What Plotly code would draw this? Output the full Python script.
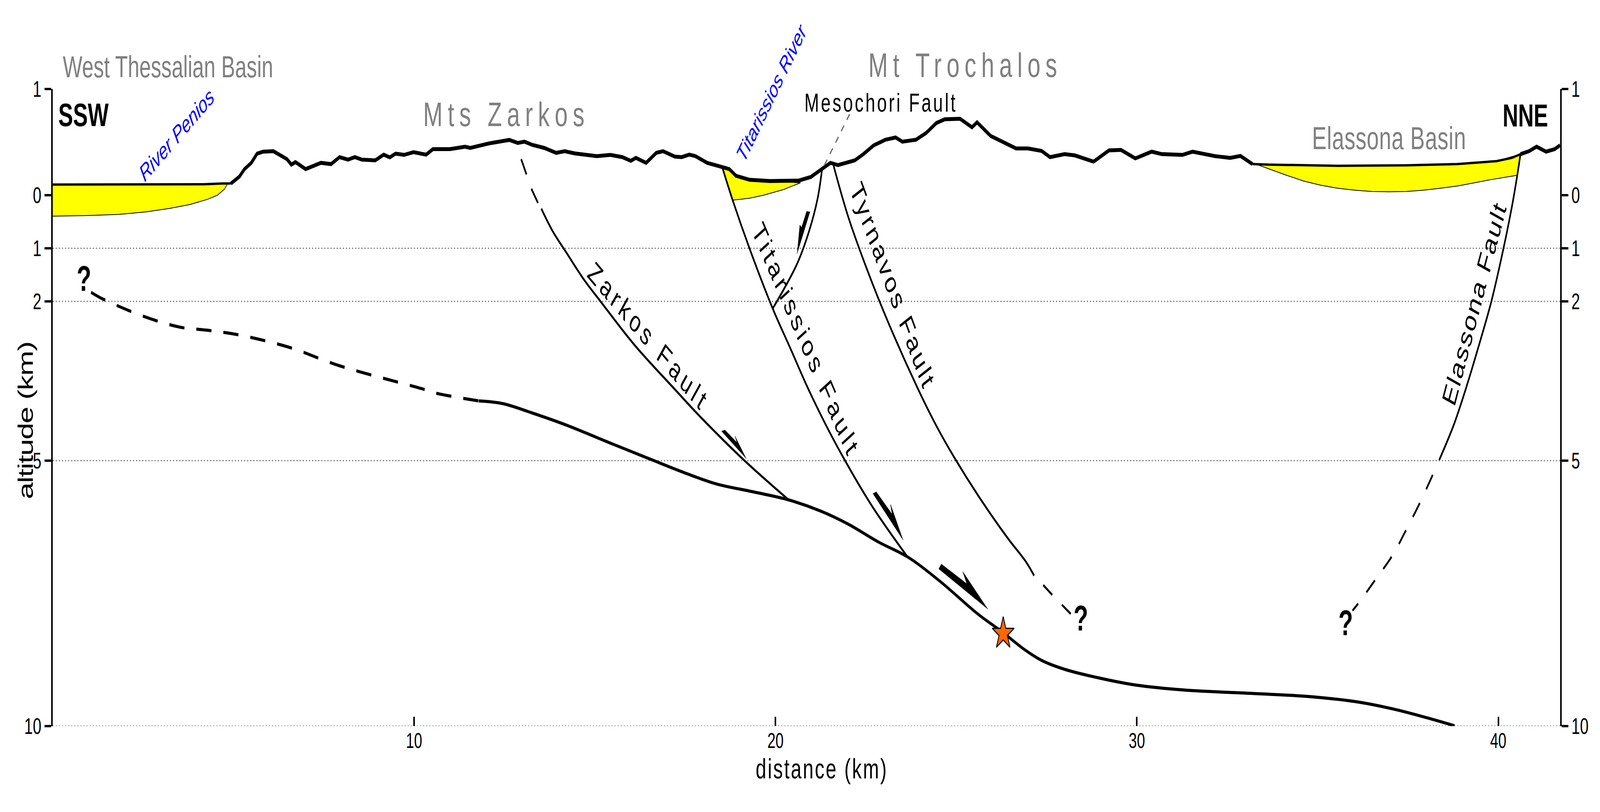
import json
import plotly.graph_objects as go

# Cross section values.
# x is distance in km, depth is km below sea level on the axis scale.
# Above zero the section is drawn at twice the scale, so -2 on the axis is the tick labelled "1".
tick_depths = [-2, 0, 1, 2, 5, 10]
tick_labels = ['1', '0', '1', '2', '5', '10']
grid_depths = [1, 2, 5, 10]
distance_ticks = [10, 20, 30, 40]
distance_labels = ['10', '20', '30', '40']

# Topography
west_flat_x = [0.0, 1.363, 2.772, 4.181, 4.697, 4.932]
west_flat_depth = [-0.201, -0.206, -0.206, -0.206, -0.22, -0.22]
hills_x = [4.932, 5.167, 5.308, 5.496, 5.656, 5.825, 6.106, 6.294, 6.482, 6.604, 6.717, 6.999, 7.234, 7.421,
           7.703, 7.938, 8.173, 8.361, 8.549, 8.924, 9.159, 9.328, 9.488, 9.723, 9.986, 10.333, 10.521, 10.991,
           11.413, 11.554, 12.071, 12.635, 12.869, 13.057, 13.273, 13.602, 13.931, 14.165, 14.447, 15.058,
           15.433, 15.762, 15.997, 16.138, 16.42, 16.701, 16.889, 17.218, 17.406, 17.613, 17.782, 18.11, 18.533,
           18.721, 18.909, 19.285, 19.848, 20.647, 20.975, 21.257, 21.52, 21.727, 22.008, 22.196, 22.431, 22.713,
           23.042, 23.323, 23.511, 23.887, 24.169, 24.451, 24.685, 25.108, 25.437, 25.578, 25.954, 26.376, 26.658,
           26.987, 27.363, 27.597, 28.0, 28.283, 28.803, 29.228, 29.559, 29.956, 30.409, 30.693, 31.26, 31.543,
           32.158, 32.583, 32.866, 33.197]
hills_depth = [-0.22, -0.351, -0.492, -0.609, -0.783, -0.82, -0.829, -0.75, -0.679, -0.576, -0.623, -0.492, -0.548,
               -0.609, -0.586, -0.717, -0.67, -0.717, -0.67, -0.656, -0.764, -0.712, -0.783, -0.759, -0.811, -0.764,
               -0.867, -0.867, -0.914, -0.89, -0.975, -1.041, -0.984, -1.008, -0.947, -0.89, -0.797, -0.829, -0.787,
               -0.736, -0.759, -0.717, -0.647, -0.703, -0.609, -0.797, -0.829, -0.726, -0.717, -0.764, -0.736, -0.609,
               -0.529, -0.492, -0.365, -0.29, -0.267, -0.276, -0.342, -0.478, -0.609, -0.567, -0.623, -0.656, -0.773,
               -0.937, -1.045, -1.087, -1.008, -1.045, -1.172, -1.359, -1.43, -1.439, -1.28, -1.373, -1.116, -0.984,
               -0.881, -0.881, -0.834, -0.717, -0.773, -0.75, -0.632, -0.844, -0.853, -0.693, -0.82, -0.773, -0.759,
               -0.82, -0.736, -0.703, -0.74, -0.586]
east_flat_x = [33.197, 33.669, 35.559, 37.449, 38.866, 39.953, 40.378, 40.614]
east_flat_depth = [-0.586, -0.576, -0.553, -0.562, -0.586, -0.642, -0.703, -0.773]
east_end_x = [40.614, 40.851, 41.059, 41.323, 41.559, 41.71]
east_end_depth = [-0.773, -0.829, -0.914, -0.82, -0.867, -0.94]

# Yellow basin fill
west_basin_x = [0.0, 1.363, 2.772, 4.181, 4.838, 4.744, 4.557, 4.275, 3.805, 3.242, 2.584, 1.833, 0.893, 0.0]
west_basin_depth = [-0.2, -0.2, -0.2, -0.2, -0.21, -0.107, 0.0, 0.08, 0.174, 0.249, 0.315, 0.362, 0.385, 0.395]
titarissios_basin_x = [18.533, 18.815, 19.285, 19.66, 20.224, 20.693, 19.848, 19.285, 18.909, 18.721]
titarissios_basin_depth = [-0.515, 0.094, 0.057, 0.001, -0.107, -0.234, -0.267, -0.29, -0.365, -0.492]
elassona_basin_x = [33.197, 33.669, 34.142, 34.614, 35.087, 35.559, 36.032, 36.504, 36.977, 37.449, 37.921, 38.394,
                    38.866, 39.339, 39.811, 40.52, 40.614, 39.953, 38.866, 37.449, 35.559, 33.669]
elassona_basin_depth = [-0.609, -0.492, -0.375, -0.267, -0.187, -0.131, -0.093, -0.07, -0.065, -0.07, -0.093, -0.131,
                        -0.173, -0.234, -0.295, -0.375, -0.773, -0.642, -0.586, -0.562, -0.553, -0.576]

# Detachment
detachment_dash_x = [1.062, 1.363, 2.49, 3.523, 4.275, 5.12, 6.529, 7.938, 10.286, 10.568, 11.789]
detachment_dash_depth = [1.83, 1.947, 2.275, 2.486, 2.543, 2.627, 2.862, 3.213, 3.659, 3.723, 3.875]
detachment_x = [11.789, 12.447, 13.273, 14.212, 15.433, 16.561, 17.5, 18.345, 19.378, 20.365, 21.257, 22.008,
                22.854, 23.652, 24.545, 25.578, 26.282, 26.893, 27.363, 28.0, 28.945, 29.984, 31.307, 32.725,
                34.614, 36.032, 37.071, 38.016, 38.791]
detachment_depth = [3.875, 3.925, 4.103, 4.33, 4.67, 4.979, 5.232, 5.435, 5.587, 5.739, 5.951, 6.194, 6.534,
                    6.812, 7.268, 7.876, 8.231, 8.56, 8.762, 8.93, 9.092, 9.228, 9.32, 9.37, 9.436, 9.537, 9.674,
                    9.841, 9.993]

# Faults
zarkos_dash_x = [12.963, 13.104, 13.255, 13.43]
zarkos_dash_depth = [-0.679, -0.398, -0.107, 0.15]
zarkos_x = [13.52, 13.837, 14.212, 14.682, 15.152, 16.091, 17.218, 17.97, 19.144, 20.365]
zarkos_depth = [0.254, 0.681, 1.079, 1.572, 1.994, 2.815, 3.659, 4.21, 5.0, 5.739]
titarissios_x = [18.533, 18.815, 19.285, 19.923, 20.412, 20.881, 21.351, 21.868, 22.666, 23.652]
titarissios_depth = [-0.515, 0.094, 1.009, 2.135, 2.885, 3.61, 4.27, 4.93, 5.85, 6.812]
mesochori_x = [21.285, 21.163, 20.928, 20.6, 19.923]
mesochori_depth = [-0.468, 0.071, 0.681, 1.29, 2.135]
mesochori_dash_x = [21.351, 22.084]
mesochori_dash_depth = [-0.562, -1.57]
tyrnavos_x = [21.605, 22.009, 22.525, 23.136, 23.934, 24.451, 24.968, 25.672, 26.424, 26.94, 27.156]
tyrnavos_depth = [-0.562, 0.399, 1.384, 2.423, 3.636, 4.344, 4.964, 5.724, 6.458, 6.914, 7.167]
tyrnavos_dash_x = [27.41, 27.663, 28.17]
tyrnavos_dash_depth = [7.344, 7.532, 7.886]
elassona_x = [40.614, 40.52, 40.378, 40.142, 39.811, 39.433, 39.1, 38.772, 38.365]
elassona_depth = [-0.773, -0.351, 0.212, 1.009, 1.994, 2.9, 3.65, 4.32, 4.989]
elassona_dash_x = [38.186, 37.827, 37.449, 37.071, 36.598, 36.145, 35.966]
elassona_dash_depth = [5.267, 5.799, 6.306, 6.787, 7.243, 7.673, 7.825]

# Half arrows showing the slip direction
arrow_zarkos_x = [18.505, 18.599, 18.937, 18.881, 19.191]
arrow_zarkos_depth = [4.447, 4.422, 4.66, 4.543, 4.964]
arrow_titarissios_x = [22.694, 22.788, 23.23, 23.183, 23.53]
arrow_titarissios_depth = [5.622, 5.587, 6.012, 5.825, 6.498]
arrow_detachment_x = [24.516, 24.591, 25.296, 25.183, 25.878]
arrow_detachment_depth = [7.04, 6.949, 7.319, 7.091, 7.8]
arrow_mesochori_x = [20.957, 20.863, 20.722, 20.675, 20.6]
arrow_mesochori_depth = [0.315, 0.306, 0.61, 0.563, 1.103]

# Mainshock
star_x = [26.301]
star_depth = [8.256]

FONT = 'Liberation Sans'
GREY = '#808080'
BLUE = '#0000FF'
X_MAX = 41.71

fig = go.Figure()


def add_line(x, y, width, dash='solid', color='black', shape='spline', yaxis='y'):
    fig.add_trace(go.Scatter(x=x, y=y, mode='lines', yaxis=yaxis, hoverinfo='skip',
                             line=dict(color=color, width=width, dash=dash, shape=shape, smoothing=1.0)))


def add_fill(x, y, color, width=2):
    fig.add_trace(go.Scatter(x=x, y=y, mode='lines', fill='toself', fillcolor=color, hoverinfo='skip',
                             line=dict(color='black', width=width)))


# basins go first so the surface line sits on top
add_fill(west_basin_x, west_basin_depth, '#FFFF00')
add_fill(titarissios_basin_x, titarissios_basin_depth, '#FFFF00')
add_fill(elassona_basin_x, elassona_basin_depth, '#FFFF00')

add_line(west_flat_x, west_flat_depth, 6, shape='linear')
add_line(hills_x, hills_depth, 10, shape='linear')
add_line(east_flat_x, east_flat_depth, 6, shape='linear')
add_line(east_end_x, east_end_depth, 10, shape='linear')

add_line(detachment_dash_x, detachment_dash_depth, 8, dash='57px,45px')
add_line(detachment_x, detachment_depth, 8)

add_line(zarkos_dash_x, zarkos_dash_depth, 6, dash='44px,41px', shape='linear')
add_line(zarkos_x, zarkos_depth, 6)
add_line(titarissios_x, titarissios_depth, 6)
add_line(mesochori_x, mesochori_depth, 6)
add_line(mesochori_dash_x, mesochori_dash_depth, 4, dash='18px,18px', color='#666666', shape='linear')
add_line(tyrnavos_x, tyrnavos_depth, 6)
add_line(tyrnavos_dash_x, tyrnavos_dash_depth, 6, dash='42px,44px', shape='linear')
# this one also carries the right hand axis
add_line(elassona_x, elassona_depth, 6, yaxis='y2')
add_line(elassona_dash_x, elassona_dash_depth, 6, dash='44px,43px')

for ax, ay in [(arrow_zarkos_x, arrow_zarkos_depth), (arrow_titarissios_x, arrow_titarissios_depth),
               (arrow_detachment_x, arrow_detachment_depth), (arrow_mesochori_x, arrow_mesochori_depth)]:
    add_fill(ax, ay, 'black', width=1)

fig.add_trace(go.Scatter(x=star_x, y=star_depth, mode='markers', hoverinfo='skip',
                         marker=dict(symbol='star', size=62, color='#FF6600', line=dict(color='black', width=3))))

for depth in grid_depths:
    fig.add_hline(y=depth, line_color='#666666', line_width=3, line_dash='4px,7.6px', layer='below')

# text, x, depth, size, colour, angle, extra letter spacing in px
labels = [
    ('West Thessalian Basin', 3.19, -2.416, 78, GREY, 0, 0, False, False),
    ('Mts Zarkos', 12.55, -1.526, 88, GREY, 0, 19, False, False),
    ('Mt Trochalos', 25.25, -2.453, 88, GREY, 0, 18.7, False, False),
    ('Elassona Basin', 36.98, -1.078, 82, GREY, 0, 1, False, False),
    ('SSW', 0.857, -1.512, 83, 'black', 0, 0, True, False),
    ('NNE', 40.75, -1.5, 81, 'black', 0, 0, True, False),
    ('River Penios', 3.43, -1.135, 60, BLUE, -38.6, 0, False, True),
    ('Titarissios River', 19.89, -1.938, 58, BLUE, -55, 0, False, True),
    ('Mesochori Fault', 22.92, -1.74, 66, 'black', 0, 7, False, False),
    ('Zarkos Fault', 16.49, 2.67, 75, 'black', 39, 12, False, False),
    ('Titarissios Fault', 20.84, 2.73, 75, 'black', 58, 10, False, False),
    ('Tyrnavos Fault', 23.25, 1.71, 75, 'black', 61.6, 7, False, False),
    ('Elassona Fault', 39.34, 2.04, 75, 'black', -69, 4, False, False),
    ('?', 0.865, 1.57, 90, 'black', 0, 0, True, False),
    ('?', 28.45, 7.97, 90, 'black', 0, 0, True, False),
    ('?', 35.78, 8.06, 90, 'black', 0, 0, True, False),
    ('altitude (km)', -0.748, 4.246, 78, 'black', -90, -2, False, False),
    ('distance (km)', 21.28, 10.8, 72, 'black', 0, 5, False, False),
]
spacing = {}
for text, x, y, size, color, angle, spaced, bold, italic in labels:
    # paper coordinates, data referenced annotations vanish once they are off the axis range
    fig.add_annotation(x=x / X_MAX, y=(10 - y) / 12, xref='paper', yref='paper', text=text, showarrow=False,
                       textangle=angle, xanchor='center', yanchor='middle',
                       font=dict(family=FONT, size=size, color=color, weight='bold' if bold else 'normal',
                                 style='italic' if italic else 'normal'))
    if spaced:
        spacing[text] = spaced

axis_style = dict(range=[10, -2], tickmode='array', tickvals=tick_depths, ticktext=tick_labels,
                  showgrid=False, zeroline=False, showline=True, linecolor='black', linewidth=6,
                  ticks='outside', ticklen=25, tickwidth=6, tickcolor='black',
                  tickfont=dict(family=FONT, size=58, color='black'))

fig.update_layout(
    width=6012,
    height=2080,
    margin=dict(l=198, r=150, t=228, b=220),
    showlegend=False,
    paper_bgcolor='white',
    plot_bgcolor='white',
    font=dict(family=FONT),
    xaxis=dict(range=[0, X_MAX], tickmode='array', tickvals=distance_ticks, ticktext=distance_labels,
               showgrid=False, zeroline=False, showline=False, ticks='inside', ticklen=24, tickwidth=6,
               tickcolor='black', tickfont=dict(family=FONT, size=55, color='black')),
    yaxis=dict(side='left', **axis_style),
    yaxis2=dict(side='right', overlaying='y', anchor='x', **axis_style),
)

# The labels in the figure are letter spaced, plotly has no font setting for that.
# The browser may give a narrower window than asked for, so scale the page to fit it.
page_js = """
var spacing = %s;
document.querySelectorAll('.annotation-text').forEach(function (t) {
    var s = spacing[t.textContent];
    if (s) { t.style.letterSpacing = s + 'px'; }
});
document.body.style.margin = '0';
document.body.style.overflow = 'hidden';
var gd = document.querySelector('.plotly-graph-div');
gd.style.transformOrigin = '0 0';
gd.style.transform = 'scale(' + (window.innerWidth / 6012) + ',' + (window.innerHeight / 2080) + ')';
""" % json.dumps(spacing)

fig.write_html("out.html", post_script=page_js, config=dict(displayModeBar=False))
